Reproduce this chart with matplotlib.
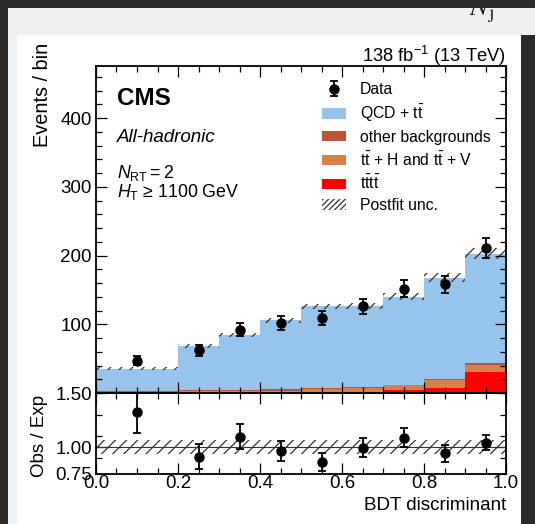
import numpy as np
import matplotlib.pyplot as plt
from matplotlib.patches import Patch, Rectangle
from matplotlib.ticker import MultipleLocator, FixedLocator, FormatStrFormatter

plt.rcParams["font.family"] = "Liberation Sans"
plt.rcParams["mathtext.fontset"] = "custom"
plt.rcParams["mathtext.rm"] = "Liberation Sans"
plt.rcParams["mathtext.it"] = "Liberation Sans:italic"
plt.rcParams["mathtext.bf"] = "Liberation Sans:bold"
plt.rcParams["hatch.linewidth"] = 0.9

# --- binning and postfit yields ---
edges = [0.0, 0.2, 0.3, 0.4, 0.5, 0.6, 0.7, 0.8, 0.9, 1.0]
centers = [0.1, 0.25, 0.35, 0.45, 0.55, 0.65, 0.75, 0.85, 0.95]
tttt = [0.2, 0.3, 0.4, 0.6, 1.0, 2.0, 4.2, 8.0, 30.5]
ttx = [1.8, 2.2, 2.6, 3.0, 4.5, 6.0, 7.0, 11.0, 10.5]
other = [1.5, 1.5, 1.5, 1.5, 1.2, 1.0, 1.0, 1.5, 3.0]
qcd = [32.0, 64.0, 79.5, 101.0, 119.5, 118.0, 128.0, 147.5, 159.0]
postfit_unc = [2.5, 3.0, 3.0, 3.5, 4.0, 4.0, 5.0, 6.0, 8.0]
data = [47, 62, 92, 102, 109, 126, 152, 158, 211]
data_err = [6.9, 7.9, 9.6, 10.1, 10.4, 11.2, 12.3, 12.6, 14.5]
ratio_unc = 0.065

col_tttt, col_ttx, col_other, col_qcd = "#ff0000", "#d8804a", "#ba5436", "#96c4ea"

total = np.array(tttt) + np.array(ttx) + np.array(other) + np.array(qcd)
data = np.array(data, dtype=float)
data_err = np.array(data_err)

W, H = 535, 524
fig = plt.figure(figsize=(W / 100, H / 100), dpi=100)
fig.patch.set_facecolor("#2a2a2a")

def frect(x0, y0, x1, y1, color, z=-1):
    # rectangle given in pixel coords (origin top-left)
    r = Rectangle((x0 / W, 1 - y1 / H), (x1 - x0) / W, (y1 - y0) / H,
                  transform=fig.transFigure, facecolor=color, edgecolor="none", zorder=z)
    fig.patches.append(r)

frect(8, 8, W, 35, "#efefef")
frect(8, 35, 17, H, "#edf1f4")
frect(17, 35, 521, H, "white")
fig.text(469 / W, 1 - 15 / H, r"$N_{\mathrm{j}}$", fontsize=20, math_fontfamily="stix",
         color="#222222", zorder=1)
frect(0, 0, W, 8, "#2a2a2a", z=5)

ax = fig.add_axes([96 / W, 1 - 393 / H, 410 / W, 327 / H])
axr = fig.add_axes([96 / W, 1 - 474 / H, 410 / W, 81 / H], sharex=ax)
for a in (ax, axr):
    a.set_zorder(2)
    a.patch.set_alpha(0)

# stacked backgrounds, tttt at the bottom
bottom = np.zeros(len(centers))
for vals, col in [(tttt, col_tttt), (ttx, col_ttx), (other, col_other), (qcd, col_qcd)]:
    top = bottom + np.array(vals)
    ax.stairs(top, edges, baseline=bottom, fill=True, color=col, lw=0)
    bottom = top

unc = np.array(postfit_unc)
ax.bar(edges[:-1], 2 * unc, width=np.diff(edges), bottom=total - unc, align="edge",
       fill=False, hatch="///", lw=0, edgecolor="#333333")

eb = ax.errorbar(centers, data, yerr=data_err, fmt="o", color="k", ms=6.5,
                 capsize=3, elinewidth=1.3, capthick=1.3, zorder=5)

# ratio panel
axr.fill_between([0, 1], 1 - ratio_unc, 1 + ratio_unc, hatch="///",
                 facecolor="none", edgecolor="#333333", lw=0)
axr.axhline(1.0, color="#333333", lw=0.8)
axr.errorbar(centers, data / total, yerr=data_err / total, fmt="o", color="k", ms=6.5,
             capsize=3, elinewidth=1.3, capthick=1.3, zorder=5)

ax.set_xlim(0, 1)
ax.set_ylim(0, 476)
axr.set_ylim(0.75, 1.5)

for a in (ax, axr):
    a.tick_params(which="both", direction="in", top=True, right=True, labelsize=13.5,
                  width=0.9, pad=3)
    a.tick_params(which="major", length=8)
    a.tick_params(which="minor", length=4)
    for s in a.spines.values():
        s.set_linewidth(1.3)
ax.xaxis.set_major_locator(MultipleLocator(0.2))
ax.xaxis.set_minor_locator(MultipleLocator(0.05))
ax.yaxis.set_major_locator(FixedLocator([100, 200, 300, 400]))
ax.yaxis.set_minor_locator(MultipleLocator(20))
ax.tick_params(labelbottom=False)
axr.yaxis.set_major_locator(FixedLocator([0.75, 1.0, 1.5]))
axr.yaxis.set_minor_locator(FixedLocator([0.9, 1.1, 1.3]))
axr.yaxis.set_major_formatter(FormatStrFormatter("%.2f"))
axr.xaxis.set_major_formatter(FormatStrFormatter("%.1f"))
axr.tick_params(axis="x", pad=1)

axr.set_xlabel("BDT discriminant", fontsize=13.6, loc="right", labelpad=3)
fig.text(42 / W, 1 - 43 / H, "Events / bin", rotation=90, ha="center", va="top", fontsize=14.3)
fig.text(40 / W, 1 - 436 / H, "Obs / Exp", rotation=90, ha="center", va="center", fontsize=13.5)

ax.text(1.0, 1.013, r"138 fb$^{-1}$ (13 TeV)", transform=ax.transAxes, ha="right",
        va="baseline", fontsize=13.2)
ax.text(0.0505, 0.881, "CMS", transform=ax.transAxes, fontsize=17.5, fontweight="bold")
ax.text(0.0505, 0.768, "All-hadronic", transform=ax.transAxes, fontsize=13.5, style="italic")
ax.text(0.0505, 0.656, r"$N_{\mathrm{RT}} = 2$", transform=ax.transAxes, fontsize=12.8)
ax.text(0.0505, 0.600, r"$H_{\mathrm{T}}$ ≥ 1100 GeV", transform=ax.transAxes, fontsize=12.8)

handles = [
    eb,
    Patch(facecolor=col_qcd, label=r"QCD + $\mathrm{t\bar{t}}$"),
    Patch(facecolor=col_other, label="other backgrounds"),
    Patch(facecolor=col_ttx, label=r"$\mathrm{t\bar{t}}$ + H and $\mathrm{t\bar{t}}$ + V"),
    Patch(facecolor=col_tttt, label=r"$\mathrm{t\bar{t}t\bar{t}}$"),
    Patch(facecolor="none", edgecolor="#333333", hatch="//////", lw=0, label="Postfit unc."),
]
labels = ["Data"] + [h.get_label() for h in handles[1:]]
ax.legend(handles, labels, loc="upper left", bbox_to_anchor=(0.551, 0.951), frameon=False,
          fontsize=11.3, borderpad=0, borderaxespad=0, handlelength=1.55,
          handleheight=0.65, handletextpad=0.85, labelspacing=0.37)

fig.savefig("out.png", dpi=100, facecolor=fig.get_facecolor())
